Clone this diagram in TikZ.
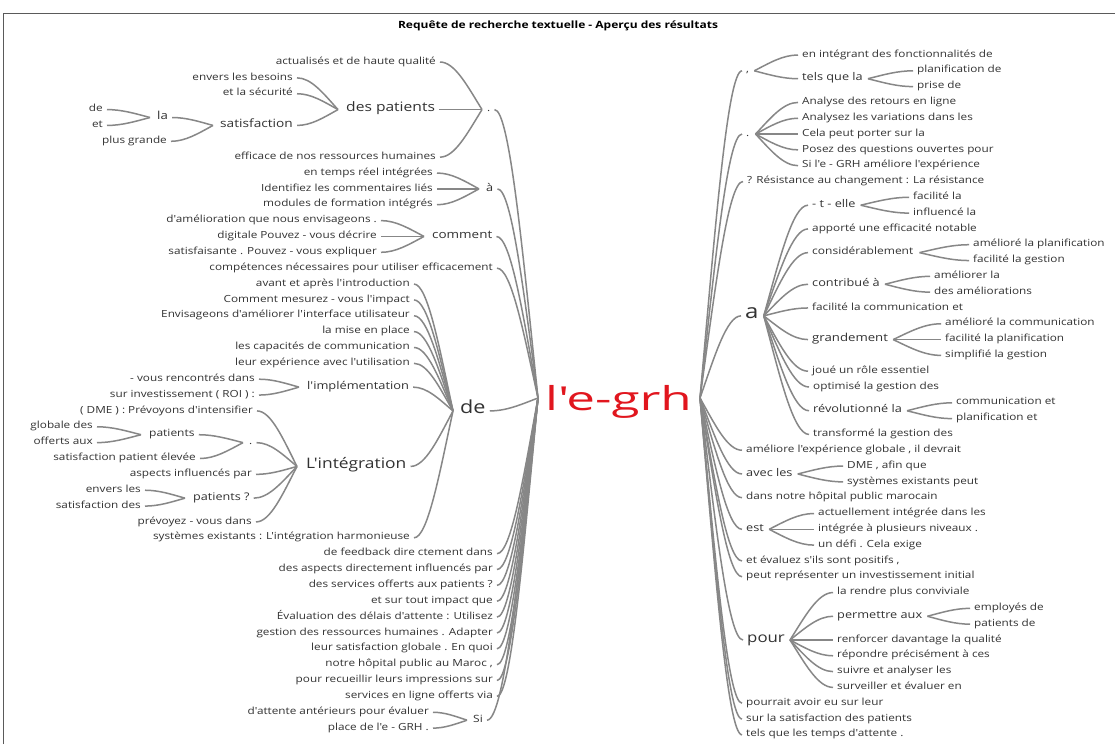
\documentclass[tikz,border=0pt]{standalone}
\usepackage{fontspec}
\usetikzlibrary{calc}
\newfontfamily\wf[FakeStretch=1.2,Ligatures=TeXOff]{Open Sans}
\newfontfamily\rf[FakeStretch=1.55,Ligatures=TeXOff]{Open Sans}
\definecolor{tc}{RGB}{50,50,50}
\definecolor{ec}{RGB}{135,135,135}
\definecolor{rc}{RGB}{225,22,30}
\definecolor{fc}{RGB}{90,90,90}
% left side: child #1 -> convergence coordinate #2
\newcommand\LK[2]{\draw[wl] let \p1=([xshift=4pt]#1.mid east), \p2=(#2) in (\p1) .. controls ({\x1+0.35*(\x2-\x1)},\y1) and ({\x2-0.35*(\x2-\x1)},{\y2-0.5*(\y2-\y1)}) .. (\p2);}
% right side: convergence coordinate #1 -> child #2
\newcommand\RK[2]{\draw[wl] let \p1=(#1), \p2=([xshift=-4pt]#2.mid west) in (\p1) .. controls ({\x1+0.35*(\x2-\x1)},{\y1+0.5*(\y2-\y1)}) and ({\x2-0.35*(\x2-\x1)},\y2) .. (\p2);}
\begin{document}
\begin{tikzpicture}[x=1pt,y=-1pt,
  every node/.style={inner sep=0pt,text=tc},
  lf/.style={font=\wf\fontsize{9.8}{11}\selectfont},
  mf/.style={font=\wf\fontsize{10.6}{12}\selectfont},
  fs/.style={font=\wf\fontsize{#1}{#1}\selectfont},
  ae/.style={anchor=mid east}, aw/.style={anchor=mid west},
  wl/.style={draw=ec,line width=1.5pt}]
\fill[white] (0,0) rectangle (1115,744);
\useasboundingbox (0,0) rectangle (1115,744);
\draw[fc,line width=1pt] (3,744) -- (3,13) -- (1115,13);
\node[font=\wf\bfseries\fontsize{10}{12}\selectfont,text=black] (title) at (558,26) {Requête de recherche textuelle - Aperçu des résultats};

% root
\node[aw,font=\rf\fontsize{33}{36}\selectfont,text=rc] (root) at (545,408) {l'e-grh};
\coordinate (rootL) at (538,398);
\coordinate (rootR) at (700,398);

% ---------------- left side ----------------
\node[lf,aw] (dotA) at (487,109.58) {.};
\node[lf,ae] (l0) at (436,62) {actualisés et de haute qualité};
\node[fs=13,aw] (dp) at (346,109.58) {des patients};
\node[lf,ae] (l6) at (436,157.16) {efficace de nos ressources humaines};
\node[lf,ae] (l1) at (293,77.86) {envers les besoins};
\node[lf,ae] (l2) at (293,93.72) {et la sécurité};
\node[fs=11.4,aw] (sat) at (220,125.44) {satisfaction};
\node[fs=11,aw] (la) at (157,117.51) {la};
\node[lf,ae] (l3) at (103,109.58) {de};
\node[lf,ae] (l4) at (103,125.44) {et};
\node[lf,ae] (l5) at (167,141.3) {plus grande};
\coordinate (dotAc) at ([xshift=-5pt]dotA.mid west);
\coordinate (dpc) at ([xshift=-8pt]dp.mid west);
\coordinate (satc) at ([xshift=-7pt]sat.mid west);
\coordinate (lac) at ([xshift=-7pt]la.mid west);
\LK{l0}{dotAc} \LK{dp}{dotAc} \LK{l6}{dotAc}
\LK{l1}{dpc} \LK{l2}{dpc} \LK{sat}{dpc}
\LK{la}{satc} \LK{l5}{satc}
\LK{l3}{lac} \LK{l4}{lac}

\node[mf,aw] (aA) at (486,188.88) {à};
\node[lf,ae] (l7) at (433,173.02) {en temps réel intégrées};
\node[lf,ae] (l8) at (433,188.88) {Identifiez les commentaires liés};
\node[lf,ae] (l9) at (433,204.74) {modules de formation intégrés};
\coordinate (aAc) at ([xshift=-7pt]aA.mid west);
\LK{l7}{aAc} \LK{l8}{aAc} \LK{l9}{aAc}

\node[fs=11.2,aw] (cmt) at (432,236.46) {comment};
\node[lf,ae] (l10) at (377,220.6) {d'amélioration que nous envisageons .};
\node[lf,ae] (l11) at (377,236.46) {digitale Pouvez - vous décrire};
\node[lf,ae] (l12) at (377,252.32) {satisfaisante . Pouvez - vous expliquer};
\coordinate (cmtc) at ([xshift=-8pt]cmt.mid west);
\LK{l10}{cmtc} \LK{l11}{cmtc} \LK{l12}{cmtc}

\node[lf,ae] (l13) at (493,268.18) {compétences nécessaires pour utiliser efficacement};

\node[fs=18,aw] (de) at (460,410.92) {de};
\coordinate (dec) at ([xshift=-7pt]de.mid west);
\node[lf,ae] (l14) at (410,284.04) {avant et après l'introduction};
\node[lf,ae] (l15) at (410,299.9) {Comment mesurez - vous l'impact};
\node[lf,ae] (l16) at (410,315.76) {Envisageons d'améliorer l'interface utilisateur};
\node[lf,ae] (l17) at (410,331.62) {la mise en place};
\node[lf,ae] (l18) at (410,347.48) {les capacités de communication};
\node[lf,ae] (l19) at (410,363.34) {leur expérience avec l'utilisation};
\node[fs=10.7,aw] (imp) at (307,387.13) {l'implémentation};
\coordinate (impc) at ([xshift=-8pt]imp.mid west);
\node[lf,ae] (l20) at (255,379.2) {- vous rencontrés dans};
\node[lf,ae] (l21) at (255,395.06) {sur investissement ( ROI ) :};
\node[fs=14.5,aw] (integ) at (306,466.43) {L'intégration};
\coordinate (integc) at ([xshift=-9pt]integ.mid west);
\node[lf,ae] (l22) at (253,410.92) {( DME ) : Prévoyons d'intensifier};
\node[lf,aw] (dotB) at (249,442.64) {.};
\coordinate (dotBc) at ([xshift=-6pt]dotB.mid west);
\node[fs=10,aw] (pat) at (149,434.71) {patients};
\coordinate (patc) at ([xshift=-8pt]pat.mid west);
\node[lf,ae] (l23) at (93,426.78) {globale des};
\node[lf,ae] (l24) at (93,442.64) {offerts aux};
\node[lf,ae] (l25) at (196,458.5) {satisfaction patient élevée};
\node[lf,ae] (l26) at (252,474.36) {aspects influencés par};
\node[fs=10.5,aw] (patq) at (193,498.15) {patients ?};
\coordinate (patqc) at ([xshift=-8pt]patq.mid west);
\node[lf,ae] (l27) at (141,490.22) {envers les};
\node[lf,ae] (l28) at (141,506.08) {satisfaction des};
\node[lf,ae] (l29) at (252,521.94) {prévoyez - vous dans};
\node[lf,ae] (l30) at (410,537.8) {systèmes existants : L'intégration harmonieuse};
\LK{l14}{dec} \LK{l15}{dec} \LK{l16}{dec} \LK{l17}{dec} \LK{l18}{dec} \LK{l19}{dec}
\LK{imp}{dec} \LK{integ}{dec} \LK{l30}{dec}
\LK{l20}{impc} \LK{l21}{impc}
\LK{l22}{integc} \LK{dotB}{integc} \LK{l26}{integc} \LK{patq}{integc} \LK{l29}{integc}
\LK{pat}{dotBc} \LK{l25}{dotBc}
\LK{l23}{patc} \LK{l24}{patc}
\LK{l27}{patqc} \LK{l28}{patqc}

\node[lf,ae] (l31) at (493,553.66) {de feedback dire ctement dans};
\node[lf,ae] (l32) at (493,569.52) {des aspects directement influencés par};
\node[lf,ae] (l33) at (493,585.38) {des services offerts aux patients ?};
\node[lf,ae] (l34) at (493,601.24) {et sur tout impact que};
\node[lf,ae] (l35) at (493,617.1) {Évaluation des délais d'attente : Utilisez};
\node[lf,ae] (l36) at (493,632.96) {gestion des ressources humaines . Adapter};
\node[lf,ae] (l37) at (493,648.82) {leur satisfaction globale . En quoi};
\node[lf,ae] (l38) at (493,664.68) {notre hôpital public au Maroc ,};
\node[lf,ae] (l39) at (493,680.54) {pour recueillir leurs impressions sur};
\node[lf,ae] (l40) at (493,696.4) {services en ligne offerts via};
\node[fs=10,aw] (si) at (473,720.19) {Si};
\coordinate (sic) at ([xshift=-6pt]si.mid west);
\node[lf,ae] (l41) at (429,712.26) {d'attente antérieurs pour évaluer};
\node[lf,ae] (l42) at (429,728.12) {place de l'e - GRH .};
\LK{l41}{sic} \LK{l42}{sic}

\LK{dotA}{rootL} \LK{aA}{rootL} \LK{cmt}{rootL} \LK{l13}{rootL} \LK{de}{rootL}
\LK{l31}{rootL} \LK{l32}{rootL} \LK{l33}{rootL} \LK{l34}{rootL} \LK{l35}{rootL}
\LK{l36}{rootL} \LK{l37}{rootL} \LK{l38}{rootL} \LK{l39}{rootL} \LK{l40}{rootL}
\LK{si}{rootL}

% ---------------- right side ----------------
\node[lf,aw] (comma) at (746,70.81) {,};
\coordinate (commac) at ([xshift=5pt]comma.mid east);
\node[lf,aw] (r0) at (802,55) {en intégrant des fonctionnalités de};
\node[mf,aw] (tq) at (802,78.72) {tels que la};
\coordinate (tqc) at ([xshift=5pt]tq.mid east);
\node[lf,aw] (r1) at (917,70.81) {planification de};
\node[lf,aw] (r2) at (917,86.62) {prise de};
\RK{commac}{r0} \RK{commac}{tq} \RK{tqc}{r1} \RK{tqc}{r2}

\node[lf,aw] (dotR) at (746,134.05) {.};
\coordinate (dotRc) at ([xshift=6pt]dotR.mid east);
\node[lf,aw] (r3) at (802,102.43) {Analyse des retours en ligne};
\node[lf,aw] (r4) at (802,118.24) {Analysez les variations dans les};
\node[lf,aw] (r5) at (802,134.05) {Cela peut porter sur la};
\node[lf,aw] (r6) at (802,149.86) {Posez des questions ouvertes pour};
\node[lf,aw] (r7) at (802,165.67) {Si l'e - GRH améliore l'expérience};
\RK{dotRc}{r3} \RK{dotRc}{r4} \RK{dotRc}{r5} \RK{dotRc}{r6} \RK{dotRc}{r7}

\node[lf,aw] (r8) at (747,181.48) {? Résistance au changement : La résistance};

\node[fs=20,aw] (a) at (745,315.87) {a};
\coordinate (ac) at ([xshift=5pt]a.mid east);
\node[mf,aw] (te) at (812,205.2) {- t - elle};
\coordinate (tec) at ([xshift=5pt]te.mid east);
\node[lf,aw] (r9) at (913,197.29) {facilité la};
\node[lf,aw] (r10) at (913,213.1) {influencé la};
\node[lf,aw] (r11) at (812,228.91) {apporté une efficacité notable};
\node[fs=10,aw] (cons) at (812,252.63) {considérablement};
\coordinate (consc) at ([xshift=6pt]cons.mid east);
\node[lf,aw] (r12) at (973,244.72) {amélioré la planification};
\node[lf,aw] (r13) at (973,260.53) {facilité la gestion};
\node[mf,aw] (contr) at (812,284.25) {contribué à};
\coordinate (contrc) at ([xshift=5pt]contr.mid east);
\node[lf,aw] (r14) at (934,276.34) {améliorer la};
\node[lf,aw] (r15) at (934,292.15) {des améliorations};
\node[lf,aw] (r16) at (812,307.96) {facilité la communication et};
\node[fs=11,aw] (grand) at (812,339.58) {grandement};
\coordinate (grandc) at ([xshift=5pt]grand.mid east);
\node[lf,aw] (r17) at (945,323.77) {amélioré la communication};
\node[lf,aw] (r18) at (945,339.58) {facilité la planification};
\node[lf,aw] (r19) at (945,355.39) {simplifié la gestion};
\node[lf,aw] (r20) at (812,371.2) {joué un rôle essentiel};
\node[lf,aw] (r21) at (813,387.01) {optimisé la gestion des};
\node[mf,aw] (revo) at (813,410.73) {révolutionné la};
\coordinate (revoc) at ([xshift=5pt]revo.mid east);
\node[lf,aw] (r22) at (956,402.82) {communication et};
\node[lf,aw] (r23) at (956,418.63) {planification et};
\node[lf,aw] (r24) at (813,434.44) {transformé la gestion des};
\RK{ac}{te} \RK{ac}{r11} \RK{ac}{cons} \RK{ac}{contr} \RK{ac}{r16}
\RK{ac}{grand} \RK{ac}{r20} \RK{ac}{r21} \RK{ac}{revo} \RK{ac}{r24}
\RK{tec}{r9} \RK{tec}{r10}
\RK{consc}{r12} \RK{consc}{r13}
\RK{contrc}{r14} \RK{contrc}{r15}
\RK{grandc}{r17} \RK{grandc}{r18} \RK{grandc}{r19}
\RK{revoc}{r22} \RK{revoc}{r23}

\node[lf,aw] (r25) at (746,450.25) {améliore l'expérience globale , il devrait};
\node[mf,aw] (avec) at (746,473.97) {avec les};
\coordinate (avecc) at ([xshift=5pt]avec.mid east);
\node[lf,aw] (r26) at (847,466.06) {DME , afin que};
\node[lf,aw] (r27) at (847,481.87) {systèmes existants peut};
\RK{avecc}{r26} \RK{avecc}{r27}
\node[lf,aw] (r28) at (746,497.68) {dans notre hôpital public marocain};
\node[mf,aw] (est) at (746,529.3) {est};
\coordinate (estc) at ([xshift=5pt]est.mid east);
\node[lf,aw] (r29) at (818,513.49) {actuellement intégrée dans les};
\node[lf,aw] (r30) at (818,529.3) {intégrée à plusieurs niveaux .};
\node[lf,aw] (r31) at (818,545.11) {un défi . Cela exige};
\RK{estc}{r29} \RK{estc}{r30} \RK{estc}{r31}
\node[lf,aw] (r32) at (746,560.92) {et évaluez s'ils sont positifs ,};
\node[lf,aw] (r33) at (746,576.73) {peut représenter un investissement initial};

\node[fs=14,aw] (pour) at (747,639.97) {pour};
\coordinate (pourc) at ([xshift=5pt]pour.mid east);
\node[lf,aw] (r34) at (837,592.54) {la rendre plus conviviale};
\node[mf,aw] (perm) at (837,616.26) {permettre aux};
\coordinate (permc) at ([xshift=5pt]perm.mid east);
\node[lf,aw] (r35) at (974,608.35) {employés de};
\node[lf,aw] (r36) at (974,624.16) {patients de};
\node[lf,aw] (r37) at (837,639.97) {renforcer davantage la qualité};
\node[lf,aw] (r38) at (837,655.78) {répondre précisément à ces};
\node[lf,aw] (r39) at (837,671.59) {suivre et analyser les};
\node[lf,aw] (r40) at (837,687.4) {surveiller et évaluer en};
\RK{pourc}{r34} \RK{pourc}{perm} \RK{pourc}{r37} \RK{pourc}{r38} \RK{pourc}{r39} \RK{pourc}{r40}
\RK{permc}{r35} \RK{permc}{r36}

\node[lf,aw] (r41) at (746,703.21) {pourrait avoir eu sur leur};
\node[lf,aw] (r42) at (746,719.02) {sur la satisfaction des patients};
\node[lf,aw] (r43) at (746,734.83) {tels que les temps d'attente .};

\RK{rootR}{comma} \RK{rootR}{dotR} \RK{rootR}{r8} \RK{rootR}{a} \RK{rootR}{r25}
\RK{rootR}{avec} \RK{rootR}{r28} \RK{rootR}{est} \RK{rootR}{r32} \RK{rootR}{r33}
\RK{rootR}{pour} \RK{rootR}{r41} \RK{rootR}{r42} \RK{rootR}{r43}
\end{tikzpicture}
\end{document}
